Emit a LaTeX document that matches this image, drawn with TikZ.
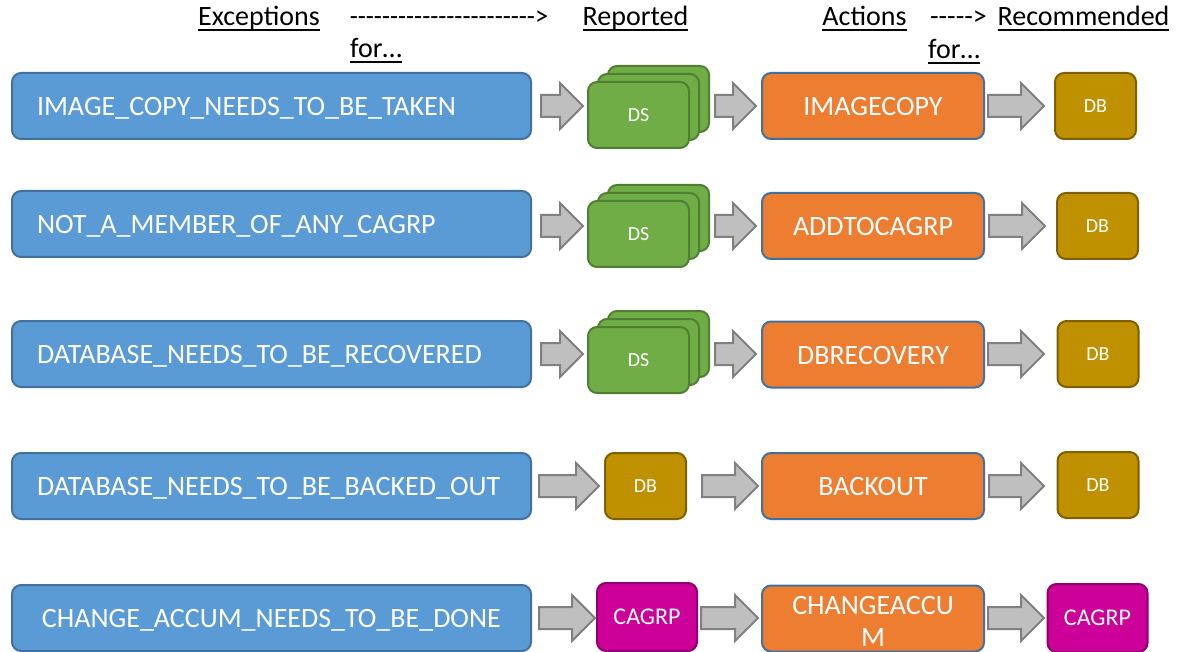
\documentclass[tikz,border=0pt]{standalone}
\usepackage{fontspec}
\setmainfont{Carlito}
\usetikzlibrary{shapes.arrows}
\definecolor{bluef}{HTML}{5B9BD5}
\definecolor{blued}{HTML}{41719C}
\definecolor{orangef}{HTML}{ED7D31}
\definecolor{greenf}{HTML}{70AD47}
\definecolor{greend}{HTML}{507E32}
\definecolor{goldf}{HTML}{BF9000}
\definecolor{goldd}{HTML}{7F6000}
\definecolor{magf}{HTML}{CC0099}
\definecolor{magd}{HTML}{8E006B}
\definecolor{arrf}{HTML}{BFBFBF}
\definecolor{arrd}{HTML}{808080}
\newcommand\myul[1]{\setbox0\hbox{#1}\rlap{\rule[-5pt]{\wd0}{1.6pt}}\box0}
\newcommand\hy{{-}}
\tikzset{
  big/.style={font=\fontsize{28}{32}\selectfont},
  small/.style={font=\fontsize{20}{24}\selectfont},
  mid/.style={font=\fontsize{24}{28}\selectfont},
  basebox/.style={rounded corners=9pt, line width=2pt, inner sep=0pt, text=white},
  bluebox/.style={basebox, big, fill=bluef, draw=blued, minimum height=66pt, text width=469pt, inner xsep=25pt, align=left, text height=19pt, text depth=0pt},
  orangebase/.style={basebox, big, fill=orangef, draw=blued, minimum width=222pt, minimum height=66pt, align=center},
  orangebox/.style={orangebase, text height=19pt, text depth=0pt},
  dsbox/.style={basebox, small, fill=greenf, draw=greend, minimum width=101pt, minimum height=66pt},
  dbbox/.style={basebox, small, fill=goldf, draw=goldd, minimum width=81pt, minimum height=66pt},
  cabox/.style={basebox, mid, fill=magf, draw=magd, minimum width=100pt, minimum height=68pt},
  blk/.style={single arrow, anchor=tail, fill=arrf, draw=arrd, line width=2pt, inner xsep=0pt, inner ysep=10pt, single arrow head extend=12pt, minimum width=44pt, shape border rotate=0},
  hdr/.style={big, anchor=base, inner sep=0pt}
}
\begin{document}
\begin{tikzpicture}[x=1pt,y=-1pt]
\useasboundingbox (0,0) rectangle (1188,652);
% headers
\node[hdr] (h1) at (259,26) {\myul{Exceptions}};
\node[hdr, transform shape, xscale=0.94] (h2) at (449,26) {\hy\hy\hy\hy\hy\hy\hy\hy\hy\hy\hy\hy\hy\hy\hy\hy\hy\hy\hy\hy\hy\hy\hy>};
\node[hdr] (h3) at (376,58) {\myul{for…}};
\node[hdr] (h4) at (635.5,26) {\myul{Reported}};
\node[hdr] (h5) at (864.5,26) {\myul{Actions}};
\node[hdr] (h6) at (958.5,26) {\hy\hy\hy\hy\hy>};
\node[hdr] (h7) at (1083.5,26) {\myul{Recommended}};
\node[hdr] (h8) at (954,59) {\myul{for…}};

% row 1
\node[bluebox] (e1) at (271.5,106) {IMAGE\_COPY\_NEEDS\_TO\_BE\_TAKEN};
\node[dsbox] (s1c) at (658.5,99) {};
\node[dsbox] (s1b) at (648.5,107) {};
\node[dsbox] (s1) at (638.5,115) {DS};
\node[orangebox] (o1) at (873,106) {IMAGECOPY};
\node[dbbox] (d1) at (1095.5,106) {DB};
\node[blk, minimum height=42pt] (a11) at (540,106) {};
\node[blk, minimum height=41pt] (a12) at (714,106) {};
\node[blk, minimum height=56pt] (a13) at (987,106) {};

% row 2
\node[bluebox] (e2) at (271.5,224) {NOT\_A\_MEMBER\_OF\_ANY\_CAGRP};
\node[dsbox] (s2c) at (658.5,218) {};
\node[dsbox] (s2b) at (648.5,226) {};
\node[dsbox] (s2) at (638.5,234) {DS};
\node[orangebox] (o2) at (873,226) {ADDTOCAGRP};
\node[dbbox] (d2) at (1097.5,226) {DB};
\node[blk, minimum height=42pt] (a21) at (540,226) {};
\node[blk, minimum height=41pt] (a22) at (714,226) {};
\node[blk, minimum height=56pt] (a23) at (988,226) {};

% row 3
\node[bluebox] (e3) at (271.5,354) {DATABASE\_NEEDS\_TO\_BE\_RECOVERED};
\node[dsbox] (s3c) at (658.5,344) {};
\node[dsbox] (s3b) at (648.5,352) {};
\node[dsbox] (s3) at (638.5,360) {DS};
\node[orangebox] (o3) at (873,354.5) {DBRECOVERY};
\node[dbbox] (d3) at (1098,354) {DB};
\node[blk, minimum height=42pt] (a31) at (540,354) {};
\node[blk, minimum height=41pt] (a32) at (714,354) {};
\node[blk, minimum height=56pt] (a33) at (987,354) {};

% row 4
\node[bluebox] (e4) at (271.5,486) {DATABASE\_NEEDS\_TO\_BE\_BACKED\_OUT};
\node[dbbox] (m4) at (645.5,486) {DB};
\node[orangebox] (o4) at (873,486) {BACKOUT};
\node[dbbox] (d4) at (1098,485) {DB};
\node[blk, minimum height=60pt] (a41) at (538,486) {};
\node[blk, minimum height=56pt] (a42) at (701,486) {};
\node[blk, minimum height=55pt] (a43) at (988,486) {};

% row 5
\node[bluebox] (e5) at (271.5,618) {\hspace*{5pt}CHANGE\_ACCUM\_NEEDS\_TO\_BE\_DONE};
\node[cabox] (m5) at (647,617) {CAGRP};
\node[orangebase] (o5) at (873,618.5) {};
\node[big, text=white, align=center, inner sep=0pt] (o5t) at (873,621) {CHANGEACCU\\M};
\node[cabox] (d5) at (1097.5,618) {CAGRP};
\node[blk, minimum height=56pt] (a51) at (538,618) {};
\node[blk, minimum height=57pt] (a52) at (700,618) {};
\node[blk, minimum height=56pt] (a53) at (987,618) {};
\end{tikzpicture}
\end{document}
